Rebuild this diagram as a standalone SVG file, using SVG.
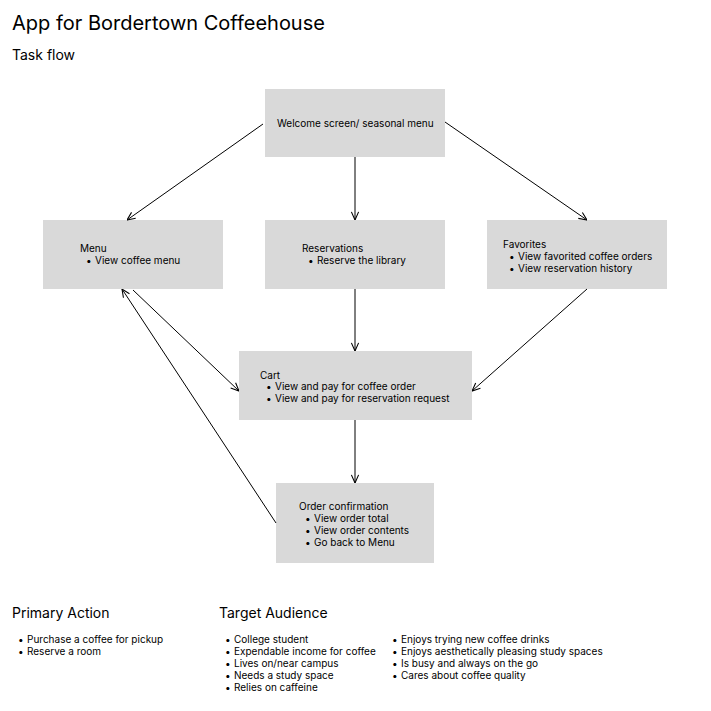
<svg xmlns="http://www.w3.org/2000/svg" width="711" height="711" viewBox="0 0 711 711">
<defs>
<marker id="arr" viewBox="0 0 10 10" refX="10" refY="5" markerWidth="9" markerHeight="9" orient="auto" markerUnits="userSpaceOnUse">
<path d="M1,1 L10,5 L1,9" fill="none" stroke="#000" stroke-width="1.2"/>
</marker>
<style>
text{font-family:Inter,"Noto Sans",sans-serif;fill:#000}
.t{font-size:10px}
.h{font-size:14px}
.box{fill:#d9d9d9}
.c line{stroke:#000;stroke-width:1;marker-end:url(#arr)}
</style>
</defs>
<rect width="711" height="711" fill="#fff"/>
<text x="12" y="30" font-size="20">App for Bordertown Coffeehouse</text>
<text x="12" y="60" class="h">Task flow</text>
<g id="welcome"><rect class="box" x="265" y="89" width="180" height="68"/><text class="t" x="277" y="127">Welcome screen/ seasonal menu</text></g>
<g id="menu"><rect class="box" x="43" y="220" width="180" height="69"/><text class="t" x="80" y="252">Menu</text><text class="t" x="86" y="264">•</text><text class="t" x="95" y="264">View coffee menu</text></g>
<g id="reservations"><rect class="box" x="265" y="220" width="180" height="69"/><text class="t" x="302" y="252">Reservations</text><text class="t" x="308" y="264">•</text><text class="t" x="317" y="264">Reserve the library</text></g>
<g id="favorites"><rect class="box" x="487" y="220" width="180" height="69"/><text class="t" x="503" y="248">Favorites</text><text class="t" x="509" y="260">•</text><text class="t" x="518" y="260">View favorited coffee orders</text><text class="t" x="509" y="272">•</text><text class="t" x="518" y="272">View reservation history</text></g>
<g id="cart"><rect class="box" x="239" y="351" width="233" height="69"/><text class="t" x="260" y="379">Cart</text><text class="t" x="266" y="390">•</text><text class="t" x="275" y="390">View and pay for coffee order</text><text class="t" x="266" y="402">•</text><text class="t" x="275" y="402">View and pay for reservation request</text></g>
<g id="order"><rect class="box" x="276" y="483" width="158" height="80"/><text class="t" x="299" y="510">Order confirmation</text><text class="t" x="305" y="522">•</text><text class="t" x="314" y="522">View order total</text><text class="t" x="305" y="534">•</text><text class="t" x="314" y="534">View order contents</text><text class="t" x="305" y="546">•</text><text class="t" x="314" y="546">Go back to Menu</text></g>
<g class="c" id="connectors">
<line x1="263" y1="124" x2="127" y2="220"/>
<line x1="355" y1="157" x2="355" y2="220"/>
<line x1="445" y1="122" x2="587" y2="220"/>
<line x1="133" y1="290" x2="239" y2="391"/>
<line x1="355" y1="289" x2="355" y2="351"/>
<line x1="587" y1="289" x2="472" y2="391"/>
<line x1="355" y1="420" x2="355" y2="483"/>
<line x1="276" y1="523" x2="122" y2="289"/>
</g>
<g id="primary">
<text class="h" x="12" y="618">Primary Action</text>
<text class="t" x="18" y="643">•</text><text class="t" x="27" y="643">Purchase a coffee for pickup</text>
<text class="t" x="18" y="655">•</text><text class="t" x="27" y="655">Reserve a room</text>
</g>
<g id="audience">
<text class="h" x="219" y="618">Target Audience</text>
<text class="t" x="225" y="643">•</text><text class="t" x="234" y="643">College student</text>
<text class="t" x="225" y="655">•</text><text class="t" x="234" y="655">Expendable income for coffee</text>
<text class="t" x="225" y="667">•</text><text class="t" x="234" y="667">Lives on/near campus</text>
<text class="t" x="225" y="679">•</text><text class="t" x="234" y="679">Needs a study space</text>
<text class="t" x="225" y="691">•</text><text class="t" x="234" y="691">Relies on caffeine</text>
<text class="t" x="392" y="643">•</text><text class="t" x="401" y="643">Enjoys trying new coffee drinks</text>
<text class="t" x="392" y="655">•</text><text class="t" x="401" y="655">Enjoys aesthetically pleasing study spaces</text>
<text class="t" x="392" y="667">•</text><text class="t" x="401" y="667">Is busy and always on the go</text>
<text class="t" x="392" y="679">•</text><text class="t" x="401" y="679">Cares about coffee quality</text>
</g>
</svg>
